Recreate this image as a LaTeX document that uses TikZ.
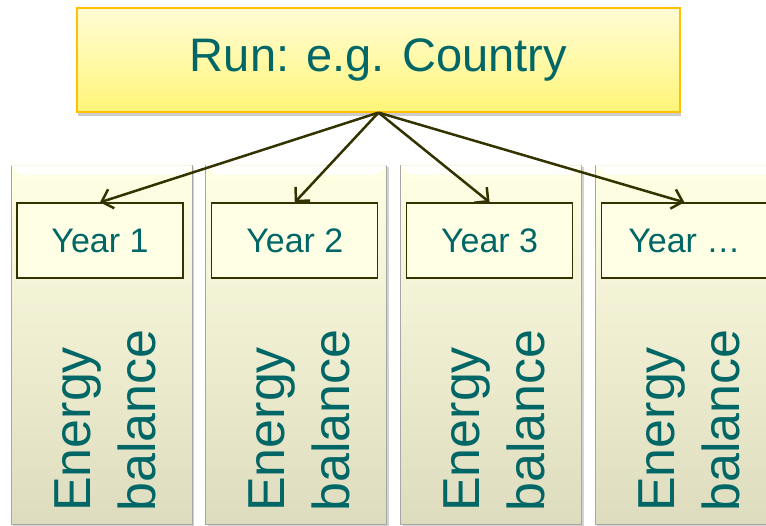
\documentclass[tikz,border=0pt]{standalone}
\usepackage{fontspec}
\setmainfont{Liberation Sans}
\usetikzlibrary{arrows.meta,shadows}
\definecolor{textteal}{RGB}{0,102,102}
\definecolor{runtop}{RGB}{255,252,214}
\definecolor{runbottom}{RGB}{255,245,120}
\definecolor{runborder}{RGB}{255,192,0}
\definecolor{coltop}{RGB}{255,255,228}
\definecolor{colbottom}{RGB}{222,220,190}
\definecolor{olivedark}{RGB}{51,51,0}
\definecolor{yearfill}{RGB}{255,255,229}
\begin{document}
\begin{tikzpicture}[x=1pt,y=-1pt,
	runbox/.style={draw=runborder, line width=1.2pt, top color=runtop, bottom color=runbottom,
		minimum width=603pt, minimum height=104pt, inner sep=0pt, text=textteal,
		font=\fontsize{47}{56}\selectfont,
		drop shadow={opacity=0.4, shadow xshift=1pt, shadow yshift=-4pt}},
	column/.style={draw=black!35, line width=0.8pt, top color=coltop, bottom color=colbottom,
		minimum width=181pt, minimum height=359pt, inner sep=0pt,
		drop shadow={opacity=0.35, shadow xshift=2pt, shadow yshift=-2pt}},
	yearbox/.style={draw=olivedark, line width=1.3pt, fill=yearfill, minimum width=166pt,
		minimum height=75pt, inner sep=0pt, text=textteal, font=\fontsize{34}{40}\selectfont},
	bigtext/.style={rotate=90, anchor=base west, inner sep=0pt, text=textteal,
		font=\fontsize{52}{62}\selectfont},
	link/.style={olivedark, line width=2.5pt, -{Straight Barb[length=10pt,width=20pt]}}
	]
	\useasboundingbox (0,0) rectangle (766,526);
	%Run
	\node[runbox] (run) at (378.5,60) {Run: e.g. Country};
	%Columns
	\foreach \i/\lab in {1/1,2/2,3/3,4/…}{
		\pgfmathsetmacro{\lx}{11+194.8*(\i-1)}
		\node[column] (col\i) at (\lx+90.5,344.5) {};
		\fill[white, opacity=0.9] (col\i.north west) -- (col\i.north east)
			-- ([shift={(-9,10)}]col\i.north east) -- ([shift={(9,10)}]col\i.north west) -- cycle;
		\node[yearbox] (y\i) at (\lx+89,240.5) {Year \lab};
		\node[bigtext] (en\i) at (\lx+79,512) {Energy};
		\node[bigtext] (ba\i) at (\lx+144,512) {balance};
	}
	%Arrows
	\foreach \i in {1,...,4}
		\draw[link] (run.south) -- (y\i.north);
\end{tikzpicture}
\end{document}
